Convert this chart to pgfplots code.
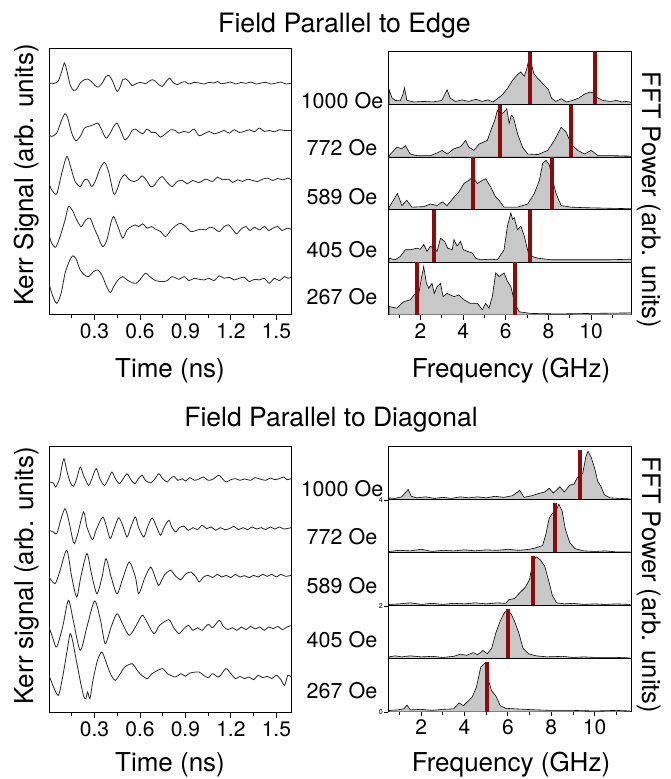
\documentclass[border=0pt]{standalone}
\usepackage{fontspec}
\setmainfont{TeX Gyre Heros}
\usepackage{pgfplots}
\pgfplotsset{compat=1.18}
\definecolor{barred}{RGB}{140,12,12}
\definecolor{fillgray}{RGB}{200,200,200}
\pgfplotsset{
  trace/.style={scale only axis, width=242.5pt, height=266pt, xmin=0, xmax=1.6, ymin=0,
    xtick={0.3,0.6,0.9,1.2,1.5}, xticklabels={0.3,0.6,0.9,1.2,1.5},
    minor xtick={0.15,0.45,0.75,1.05,1.35}, ytick=\empty, xtick pos=bottom,
    tick align=outside, major tick length=5pt, minor tick length=3pt,
    tick style={line width=0.8pt, black},
    axis line style={line width=1pt},
    tick label style={font=\fontsize{21}{25}\selectfont},
    /pgf/number format/assume math mode=true, anchor=north west},
  spec/.style={scale only axis, width=243pt, ymin=0, ymax=1, ytick=\empty, xtick=\empty,
    anchor=north west, axis line style={line width=1pt},
    tick style={line width=0.8pt, black}, tick align=outside,
    /pgf/number format/assume math mode=true},
  specbot/.style={xtick={2,4,6,8,10}, minor xtick={1,3,5,7,9,11}, xtick pos=bottom,
    major tick length=5pt, minor tick length=3pt,
    xticklabel style={font=\fontsize{21}{25}\selectfont}},
  smalltick/.style={ytick={0}, yticklabels={#1}, ytick pos=left, major tick length=4pt,
    yticklabel style={font=\fontsize{7}{8}\selectfont, inner sep=1pt}},
  tr/.style={line width=0.8pt, black!85, mark=none, smooth, tension=0.45},
  sp/.style={fill=fillgray, draw=black, line width=0.6pt, mark=none},
  rb/.style={ycomb, draw=barred, line width=4pt, mark=none},
}
\begin{document}
\begin{tikzpicture}
\path[use as bounding box] (0,0) rectangle (671pt,779pt);

% ---------------- top left: time traces ----------------
\begin{axis}[trace, at={(49pt,730pt)}, ymax=797]
\addplot[tr] coordinates {(0.00,695)(0.03,694)(0.06,700)(0.084,730)(0.102,755)(0.119,730)(0.139,690)(0.161,673)(0.183,677)(0.206,695)(0.234,705)(0.256,707)(0.278,700)(0.305,687)(0.327,683)(0.354,697)(0.376,715)(0.398,717)(0.420,700)(0.449,670)(0.471,685)(0.486,705)(0.504,708)(0.526,700)(0.548,687)(0.575,693)(0.603,697)(0.636,693)(0.659,700)(0.681,705)(0.703,700)(0.725,690)(0.747,685)(0.769,697)(0.796,710)(0.818,697)(0.846,690)(0.875,697)(0.897,699)(0.924,692)(0.957,697)(0.990,695)(1.023,692)(1.056,697)(1.089,695)(1.112,700)(1.134,693)(1.167,695)(1.200,698)(1.233,692)(1.266,697)(1.299,694)(1.333,698)(1.366,692)(1.399,695)(1.432,697)(1.465,692)(1.498,695)(1.531,698)(1.565,692)(1.598,695)};
\addplot[tr] coordinates {(0.00,540)(0.018,535)(0.051,545)(0.084,585)(0.106,603)(0.124,590)(0.150,545)(0.177,522)(0.206,535)(0.234,560)(0.261,565)(0.294,570)(0.323,575)(0.345,557)(0.376,530)(0.404,545)(0.427,565)(0.449,575)(0.471,555)(0.499,525)(0.526,535)(0.548,553)(0.570,557)(0.592,550)(0.619,543)(0.647,557)(0.676,547)(0.703,547)(0.736,533)(0.769,543)(0.802,555)(0.831,553)(0.857,545)(0.891,550)(0.924,547)(0.957,557)(0.990,537)(1.023,543)(1.056,550)(1.089,543)(1.123,547)(1.156,553)(1.189,545)(1.222,555)(1.255,547)(1.288,550)(1.322,555)(1.355,549)(1.388,560)(1.421,550)(1.454,553)(1.487,549)(1.520,555)(1.554,553)(1.598,553)};
\addplot[tr] coordinates {(0.00,395)(0.018,375)(0.051,363)(0.084,425)(0.117,475)(0.139,450)(0.172,400)(0.206,385)(0.234,405)(0.256,405)(0.283,385)(0.309,405)(0.338,440)(0.367,457)(0.393,430)(0.427,363)(0.449,375)(0.471,405)(0.499,420)(0.530,405)(0.559,400)(0.588,405)(0.614,417)(0.641,405)(0.670,385)(0.692,387)(0.720,405)(0.747,415)(0.780,397)(0.813,385)(0.846,400)(0.880,403)(0.913,393)(0.946,403)(0.990,397)(1.034,407)(1.078,400)(1.112,413)(1.145,405)(1.185,407)(1.211,397)(1.244,405)(1.277,400)(1.310,407)(1.344,403)(1.377,400)(1.410,407)(1.443,410)(1.476,403)(1.509,409)(1.543,405)(1.576,410)(1.598,405)};
\addplot[tr] coordinates {(0.00,240)(0.018,215)(0.044,203)(0.073,235)(0.106,285)(0.128,325)(0.155,313)(0.183,285)(0.212,265)(0.243,285)(0.272,290)(0.294,265)(0.323,235)(0.354,205)(0.382,225)(0.411,280)(0.427,295)(0.455,265)(0.486,230)(0.515,255)(0.544,265)(0.570,270)(0.592,265)(0.619,273)(0.647,260)(0.676,265)(0.703,257)(0.736,250)(0.769,235)(0.802,253)(0.835,267)(0.868,275)(0.902,265)(0.935,250)(0.968,253)(1.001,257)(1.034,255)(1.061,263)(1.089,260)(1.123,250)(1.156,265)(1.185,270)(1.211,257)(1.238,243)(1.266,257)(1.299,265)(1.326,253)(1.355,263)(1.388,255)(1.421,265)(1.450,253)(1.476,260)(1.509,265)(1.538,253)(1.569,260)(1.598,257)};
\addplot[tr] coordinates {(0.00,95)(0.022,60)(0.051,35)(0.080,65)(0.106,125)(0.133,160)(0.155,177)(0.177,170)(0.206,135)(0.234,120)(0.261,115)(0.294,130)(0.323,135)(0.349,120)(0.376,90)(0.404,67)(0.427,85)(0.455,105)(0.486,115)(0.515,105)(0.548,97)(0.575,95)(0.603,107)(0.636,125)(0.670,113)(0.703,103)(0.747,100)(0.780,103)(0.813,115)(0.857,107)(0.891,115)(0.924,103)(0.957,110)(0.990,107)(1.023,105)(1.056,110)(1.089,103)(1.123,117)(1.156,110)(1.189,113)(1.222,105)(1.255,110)(1.288,113)(1.322,100)(1.355,107)(1.388,105)(1.421,110)(1.454,95)(1.487,110)(1.520,103)(1.554,115)(1.576,110)(1.598,113)};
\end{axis}

% ---------------- bottom left: time traces ----------------
\begin{axis}[trace, at={(49pt,332pt)}, ymax=798]
\addplot[tr] coordinates {(0.00,693)(0.03,690)(0.044,678)(0.07,703)(0.084,738)(0.099,763)(0.117,728)(0.139,693)(0.161,680)(0.183,703)(0.206,738)(0.228,713)(0.261,683)(0.283,703)(0.312,733)(0.338,700)(0.367,683)(0.393,703)(0.415,723)(0.438,703)(0.464,688)(0.49,703)(0.515,718)(0.54,700)(0.566,688)(0.59,703)(0.614,713)(0.636,698)(0.67,690)(0.70,703)(0.725,718)(0.75,703)(0.78,693)(0.80,703)(0.824,710)(0.85,698)(0.88,703)(0.90,696)(0.93,706)(0.96,698)(0.99,702)(1.02,708)(1.05,698)(1.08,701)(1.12,713)(1.15,700)(1.17,693)(1.20,700)(1.23,703)(1.26,698)(1.29,702)(1.33,698)(1.36,706)(1.39,702)(1.43,698)(1.46,705)(1.49,700)(1.52,703)(1.55,708)(1.57,700)(1.598,703)};
\addplot[tr] coordinates {(0.00,548)(0.03,543)(0.051,538)(0.08,583)(0.106,613)(0.13,578)(0.155,523)(0.168,508)(0.19,538)(0.228,603)(0.25,558)(0.287,520)(0.31,548)(0.354,588)(0.38,558)(0.404,523)(0.43,553)(0.460,586)(0.49,558)(0.515,528)(0.54,558)(0.570,588)(0.59,558)(0.625,528)(0.65,558)(0.681,585)(0.71,558)(0.736,533)(0.76,558)(0.791,578)(0.81,558)(0.835,543)(0.86,556)(0.89,560)(0.92,548)(0.95,556)(0.98,550)(1.01,563)(1.04,553)(1.07,558)(1.10,548)(1.13,556)(1.16,550)(1.19,553)(1.22,560)(1.25,550)(1.28,556)(1.31,550)(1.34,558)(1.37,552)(1.40,556)(1.43,550)(1.46,558)(1.49,552)(1.52,558)(1.55,552)(1.598,556)};
\addplot[tr] coordinates {(0.00,408)(0.04,388)(0.07,423)(0.117,488)(0.15,408)(0.183,348)(0.21,408)(0.250,478)(0.28,418)(0.316,358)(0.35,408)(0.376,463)(0.41,408)(0.449,358)(0.49,408)(0.53,453)(0.57,408)(0.592,358)(0.63,403)(0.670,438)(0.70,408)(0.725,383)(0.76,413)(0.802,428)(0.83,413)(0.868,400)(0.90,416)(0.935,423)(0.97,408)(0.99,393)(1.02,408)(1.05,413)(1.08,406)(1.11,416)(1.14,408)(1.17,413)(1.20,406)(1.23,416)(1.26,408)(1.29,412)(1.32,406)(1.35,413)(1.38,408)(1.41,416)(1.44,410)(1.47,416)(1.50,408)(1.53,416)(1.56,410)(1.598,413)};
\addplot[tr] coordinates {(0.00,258)(0.03,218)(0.051,198)(0.09,258)(0.128,338)(0.16,278)(0.206,188)(0.25,258)(0.301,336)(0.34,278)(0.371,208)(0.41,258)(0.449,298)(0.49,263)(0.530,233)(0.57,258)(0.614,293)(0.64,278)(0.692,238)(0.73,263)(0.791,280)(0.82,258)(0.857,238)(0.89,253)(0.92,263)(0.95,248)(0.98,256)(1.01,248)(1.05,266)(1.08,256)(1.123,278)(1.15,260)(1.18,250)(1.21,256)(1.24,248)(1.27,258)(1.30,250)(1.33,260)(1.36,252)(1.39,258)(1.42,248)(1.45,258)(1.48,253)(1.51,260)(1.54,250)(1.57,258)(1.598,262)};
\addplot[tr] coordinates {(0.00,113)(0.03,78)(0.062,53)(0.09,108)(0.12,188)(0.139,238)(0.155,218)(0.18,158)(0.21,88)(0.23,48)(0.243,43)(0.255,63)(0.27,43)(0.29,98)(0.32,158)(0.349,183)(0.38,148)(0.41,113)(0.438,98)(0.47,118)(0.50,138)(0.548,148)(0.575,133)(0.60,118)(0.647,103)(0.68,118)(0.747,133)(0.78,118)(0.835,108)(0.87,118)(0.90,110)(0.93,120)(0.990,123)(1.02,113)(1.05,106)(1.08,118)(1.12,108)(1.167,133)(1.20,118)(1.23,103)(1.26,110)(1.29,103)(1.32,108)(1.35,100)(1.38,113)(1.41,106)(1.44,110)(1.47,103)(1.50,113)(1.53,100)(1.554,83)(1.576,113)(1.598,108)};
\end{axis}

% ---------------- top right: spectra ----------------
\begin{axis}[spec, at={(388.5pt,727pt)}, height=52.6pt, xmin=0.5, xmax=11.9]
\addplot[sp] coordinates {(0.53,0.28)(0.66,0.13)(0.81,0.08)(1.05,0.07)(1.18,0.2)(1.25,0.32)(1.36,0.08)(1.7,0.05)(2.15,0.06)(2.6,0.05)(3.0,0.08)(3.25,0.28)(3.4,0.12)(3.65,0.06)(3.95,0.09)(4.25,0.06)(4.6,0.1)(4.9,0.06)(5.15,0.09)(5.4,0.05)(5.6,0.11)(5.85,0.19)(6.1,0.32)(6.3,0.45)(6.55,0.57)(6.7,0.62)(6.87,0.54)(7.0,0.7)(7.12,0.94)(7.21,0.76)(7.31,0.6)(7.47,0.51)(7.62,0.45)(7.8,0.37)(8.0,0.29)(8.15,0.12)(8.35,0.06)(8.6,0.11)(8.85,0.05)(9.15,0.08)(9.45,0.13)(9.7,0.2)(9.95,0.24)(10.1,0.22)(10.3,0.13)(10.55,0.08)(10.9,0.06)(11.2,0.08)(11.45,0.05)(11.65,0.06)(11.9,0.04)} \closedcycle;
\addplot[rb] coordinates {(7.14,1)(10.17,1)};
\end{axis}
\begin{axis}[spec, at={(388.5pt,674.4pt)}, height=52.6pt, xmin=0.5, xmax=11.9]
\addplot[sp] coordinates {(0.53,0.03)(0.89,0.19)(1.13,0.16)(1.29,0.22)(1.52,0.06)(1.84,0.03)(2.47,0.03)(2.78,0.08)(3.02,0.13)(3.25,0.06)(3.57,0.16)(3.88,0.2)(4.12,0.32)(4.27,0.19)(4.51,0.13)(4.75,0.25)(4.98,0.29)(5.14,0.32)(5.3,0.51)(5.48,0.7)(5.61,0.89)(5.77,0.8)(5.92,0.86)(6.05,0.92)(6.16,0.64)(6.27,0.8)(6.36,0.76)(6.55,0.45)(6.79,0.19)(7.03,0.06)(7.5,0.05)(7.97,0.13)(8.28,0.32)(8.6,0.57)(8.83,0.48)(9.07,0.25)(9.38,0.13)(9.7,0.06)(10.01,0.13)(10.33,0.03)(10.96,0.03)(11.9,0.02)} \closedcycle;
\addplot[rb] coordinates {(5.72,1)(9.07,1)};
\end{axis}
\begin{axis}[spec, at={(388.5pt,621.8pt)}, height=52.6pt, xmin=0.5, xmax=11.9]
\addplot[sp] coordinates {(0.53,0.05)(0.92,0.31)(1.13,0.08)(1.36,0.18)(1.6,0.05)(2.15,0.06)(2.47,0.11)(2.78,0.08)(3.02,0.15)(3.25,0.08)(3.57,0.24)(3.8,0.34)(4.04,0.5)(4.27,0.56)(4.46,0.62)(4.67,0.5)(4.9,0.56)(5.06,0.59)(5.3,0.43)(5.53,0.24)(5.69,0.18)(5.92,0.05)(6.55,0.05)(7.03,0.11)(7.34,0.31)(7.58,0.56)(7.73,0.88)(7.89,0.94)(8.05,0.85)(8.2,0.56)(8.36,0.31)(8.6,0.08)(9.07,0.05)(9.7,0.04)(11.9,0.02)} \closedcycle;
\addplot[rb] coordinates {(4.46,1)(8.16,1)};
\end{axis}
\begin{axis}[spec, at={(388.5pt,569.2pt)}, height=52.6pt, xmin=0.5, xmax=11.9]
\addplot[sp] coordinates {(0.53,0.08)(0.81,0.05)(1.05,0.11)(1.29,0.24)(1.52,0.24)(1.84,0.27)(1.99,0.25)(2.15,0.34)(2.31,0.21)(2.47,0.31)(2.78,0.21)(2.94,0.46)(3.13,0.4)(3.28,0.27)(3.49,0.24)(3.57,0.43)(3.72,0.31)(3.88,0.4)(4.01,0.24)(4.2,0.21)(4.43,0.18)(4.59,0.08)(4.82,0.05)(5.3,0.06)(5.61,0.05)(5.92,0.24)(6.08,0.69)(6.24,0.94)(6.32,0.82)(6.4,0.85)(6.55,0.62)(6.71,0.69)(6.87,0.5)(7.06,0.18)(7.26,0.11)(7.5,0.08)(8.13,0.05)(9.23,0.05)(10.8,0.05)(11.9,0.06)} \closedcycle;
\addplot[rb] coordinates {(2.62,1)(7.15,1)};
\end{axis}
\begin{axis}[spec, specbot, at={(388.5pt,516.6pt)}, height=52.6pt, xmin=0.5, xmax=11.9]
\addplot[sp] coordinates {(0.53,0.16)(0.89,0.13)(1.21,0.25)(1.52,0.29)(1.76,0.41)(1.92,0.41)(2.03,0.67)(2.15,0.92)(2.28,0.6)(2.39,0.51)(2.54,0.6)(2.65,0.41)(2.78,0.54)(2.94,0.6)(3.06,0.35)(3.25,0.41)(3.57,0.35)(3.8,0.38)(4.04,0.29)(4.35,0.22)(4.67,0.22)(4.9,0.1)(5.06,0.22)(5.22,0.13)(5.37,0.35)(5.53,0.8)(5.69,0.73)(5.92,0.8)(6.08,0.64)(6.24,0.54)(6.43,0.22)(6.63,0.06)(7.18,0.03)(8.44,0.02)(10.01,0.03)(11.9,0.04)} \closedcycle;
\addplot[rb] coordinates {(1.84,1)(6.43,1)};
\end{axis}

% ---------------- bottom right: spectra ----------------
\begin{axis}[spec, smalltick={4}, at={(388pt,332pt)}, height=53pt, xmin=0.47, xmax=11.68]
\addplot[sp] coordinates {(0.52,0.04)(0.8,0.03)(1.1,0.06)(1.3,0.15)(1.4,0.2)(1.55,0.07)(1.8,0.04)(2.2,0.06)(2.6,0.03)(3.0,0.05)(3.4,0.03)(3.8,0.06)(4.2,0.04)(4.6,0.06)(5.0,0.04)(5.4,0.07)(5.8,0.05)(6.2,0.08)(6.55,0.18)(6.75,0.05)(7.1,0.08)(7.4,0.12)(7.7,0.15)(7.9,0.22)(8.1,0.13)(8.4,0.25)(8.6,0.15)(8.85,0.28)(9.05,0.3)(9.2,0.42)(9.45,0.5)(9.6,0.82)(9.7,0.92)(9.85,0.8)(10.0,0.6)(10.15,0.35)(10.3,0.25)(10.45,0.1)(10.7,0.04)(11.2,0.03)(11.64,0.02)} \closedcycle;
\addplot[rb] coordinates {(9.31,0.95)};
\end{axis}
\begin{axis}[spec, at={(388pt,279pt)}, height=53pt, xmin=0.47, xmax=11.68]
\addplot[sp] coordinates {(0.52,0.03)(1.0,0.05)(1.5,0.04)(2.0,0.07)(2.5,0.03)(3.0,0.05)(3.5,0.04)(4.0,0.06)(4.5,0.04)(5.0,0.06)(5.5,0.05)(6.0,0.07)(6.5,0.05)(7.0,0.07)(7.3,0.1)(7.6,0.14)(7.75,0.35)(7.9,0.65)(8.05,0.75)(8.2,0.78)(8.35,0.92)(8.5,0.8)(8.65,0.45)(8.85,0.2)(9.1,0.08)(9.5,0.04)(10.0,0.03)(10.5,0.04)(11.0,0.02)(11.64,0.02)} \closedcycle;
\addplot[rb] coordinates {(8.19,0.95)};
\end{axis}
\begin{axis}[spec, smalltick={2}, at={(388pt,226pt)}, height=53pt, xmin=0.47, xmax=11.68]
\addplot[sp] coordinates {(0.52,0.03)(1.0,0.04)(1.5,0.06)(2.0,0.03)(2.5,0.05)(3.0,0.03)(3.5,0.05)(4.0,0.04)(4.5,0.06)(5.0,0.04)(5.5,0.06)(5.9,0.05)(6.05,0.12)(6.3,0.14)(6.55,0.25)(6.8,0.35)(7.0,0.5)(7.15,0.82)(7.3,0.93)(7.5,0.87)(7.7,0.75)(7.9,0.45)(8.05,0.2)(8.25,0.06)(8.6,0.04)(9.0,0.05)(9.5,0.03)(10.0,0.04)(10.5,0.03)(11.0,0.04)(11.64,0.03)} \closedcycle;
\addplot[rb] coordinates {(7.17,0.95)};
\end{axis}
\begin{axis}[spec, at={(388pt,173pt)}, height=53pt, xmin=0.47, xmax=11.68]
\addplot[sp] coordinates {(0.52,0.04)(0.8,0.06)(1.1,0.04)(1.5,0.06)(2.0,0.04)(2.5,0.05)(3.0,0.03)(3.5,0.05)(3.8,0.09)(4.1,0.07)(4.4,0.12)(4.6,0.08)(4.85,0.16)(5.05,0.1)(5.25,0.2)(5.45,0.5)(5.65,0.72)(5.85,0.88)(6.0,0.92)(6.15,0.85)(6.3,0.72)(6.5,0.5)(6.7,0.2)(6.95,0.1)(7.3,0.06)(7.8,0.04)(8.5,0.05)(9.0,0.03)(9.5,0.04)(10.0,0.03)(11.0,0.03)(11.64,0.02)} \closedcycle;
\addplot[rb] coordinates {(6.02,0.95)};
\end{axis}
\begin{axis}[spec, specbot, smalltick={0}, at={(388pt,120pt)}, height=53pt, xmin=0.47, xmax=11.68]
\addplot[sp] coordinates {(0.52,0.03)(0.9,0.04)(1.2,0.06)(1.35,0.13)(1.5,0.04)(2.0,0.05)(2.5,0.03)(3.0,0.05)(3.5,0.06)(3.75,0.17)(3.95,0.12)(4.15,0.2)(4.35,0.28)(4.55,0.47)(4.75,0.85)(4.95,0.93)(5.1,0.6)(5.25,0.4)(5.45,0.3)(5.65,0.12)(5.9,0.07)(6.3,0.06)(6.8,0.05)(7.3,0.04)(8.0,0.03)(9.0,0.03)(10.0,0.02)(11.0,0.03)(11.64,0.02)} \closedcycle;
\addplot[rb] coordinates {(5.04,0.95)};
\end{axis}

% ---------------- texts ----------------
\node[anchor=base, font=\fontsize{26.7}{32}\selectfont] at (344.5pt,746pt) {Field Parallel to Edge};
\node[anchor=base, font=\fontsize{26.5}{32}\selectfont] at (331pt,352pt) {Field Parallel to Diagonal};
\node[anchor=base, font=\fontsize{26}{31}\selectfont] at (170pt,401pt) {Time (ns)};
\node[anchor=base, font=\fontsize{26}{31}\selectfont] at (511pt,401pt) {Frequency (GHz)};
\node[anchor=base, font=\fontsize{26}{31}\selectfont] at (170pt,8pt) {Time (ns)};
\node[anchor=base, font=\fontsize{26}{31}\selectfont] at (511pt,8pt) {Frequency (GHz)};
\node[anchor=base, rotate=90, font=\fontsize{26}{31}\selectfont] at (33pt,604pt) {Kerr Signal (arb. units)};
\node[anchor=base, rotate=90, font=\fontsize{26}{31}\selectfont] at (33pt,203pt) {Kerr signal (arb. units)};
\node[anchor=base, rotate=-90, font=\fontsize{25.5}{31}\selectfont] at (642pt,579pt) {FFT Power (arb. units)};
\node[anchor=base, rotate=-90, font=\fontsize{25.5}{31}\selectfont] at (642pt,194pt) {FFT Power (arb. units)};
\foreach \lab/\yy in {1000 Oe/670, 772 Oe/623, 589 Oe/574, 405 Oe/521, 267 Oe/474} {
  \node[anchor=base, font=\fontsize{21.5}{26}\selectfont] at (342pt,\yy pt) {\lab};
}
\foreach \lab/\yy in {1000 Oe/282, 772 Oe/234, 589 Oe/185, 405 Oe/131, 267 Oe/80} {
  \node[anchor=base, font=\fontsize{21.5}{26}\selectfont] at (342pt,\yy pt) {\lab};
}
\end{tikzpicture}
\end{document}
